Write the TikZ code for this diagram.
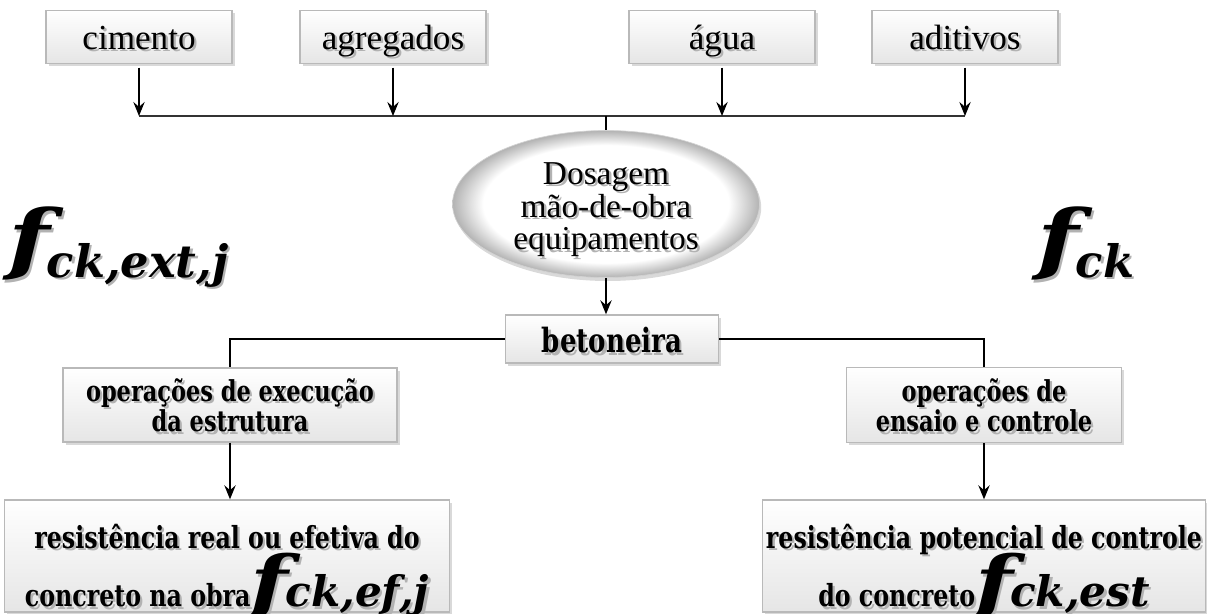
\documentclass[tikz,border=0pt]{standalone}
\usepackage{fontspec}
\setmainfont{Liberation Serif}
\newfontfamily\schola{DejaVu Serif}
\usepackage{tikz}
\usetikzlibrary{arrows.meta,shadows,shapes.geometric}
\newcommand{\shd}[1]{\leavevmode\rlap{\kern1.3pt\raisebox{-1.3pt}[0pt][0pt]{\textcolor{black!30}{#1}}}#1}
\newcommand{\cond}[1]{\scalebox{0.78}[1]{#1}}
\newcommand{\linhas}[1]{\begin{tabular}[b]{@{}c@{}}#1\end{tabular}}
% f grande: tamanho do f, tamanho do indice, descida do indice, indice
\newcommand{\fbig}[4]{{\schola\bfseries\itshape\fontsize{#1}{#1}\selectfont\scalebox{1.25}[1]{f}\kern-0.04em\fontsize{#2}{#2}\selectfont\raisebox{-#3}{#4}}}
\pgfdeclareradialshading{aro}{\pgfpoint{0bp}{0bp}}{color(0bp)=(white); color(20bp)=(white); color(25bp)=(black!30); color(50bp)=(black!30)}

\begin{document}
\begin{tikzpicture}[x=0.02cm, y=-0.02cm,
  caixa/.style={rectangle, draw=gray!55, line width=0.8pt, top color=white, bottom color=gray!20,
    drop shadow={opacity=0.3, shadow xshift=1.5pt, shadow yshift=-1.5pt}, inner sep=0pt},
  linhabase/.style={text depth=0pt, text height=#1},
  topo/.style={caixa, minimum width=3.72cm, minimum height=1.06cm, linhabase=0.5cm, font=\fontsize{20}{22}\selectfont},
  negrito/.style={font=\schola\bfseries\fontsize{#1}{17}\selectfont},
  seta/.style={-{Stealth[length=8pt, width=6.5pt, inset=2.8pt]}, line width=0.7pt}]
  \useasboundingbox (0,0) rectangle (1207,614);
  \node[topo] (cim) at (139,37) {\shd{cimento}};
  \node[topo] (agr) at (393,37) {\shd{agregados}};
  \node[topo] (agua) at (722,37) {\shd{água}};
  \node[topo] (adit) at (965,37) {\shd{aditivos}};
  \coordinate (bus) at (606,116);
  \draw[line width=1pt, black!80] (cim.south |- bus) -- (adit.south |- bus);
  \foreach \n in {cim,agr,agua,adit} \draw[seta] ([yshift=-2pt]\n.south) -- (\n.south |- bus);
  \node[ellipse, draw=gray!35, shading=aro, minimum width=6.14cm, minimum height=2.94cm, inner sep=0pt,
    drop shadow={opacity=0.3, shadow xshift=1pt, shadow yshift=-2pt}, linhabase=1.84cm,
    font=\fontsize{19}{18.5}\selectfont] (dos) at (606,204)
    {\linhas{\shd{Dosagem}\\\shd{mão-de-obra}\\\shd{equipamentos}}};
  \draw[line width=0.7pt] (bus) -- (dos.north);
  \node[caixa, minimum width=4.26cm, minimum height=0.96cm, linhabase=0.56cm,
    font=\schola\bfseries\fontsize{19}{22}\selectfont] (beto) at (612,339) {\shd{\cond{betoneira}}};
  \draw[seta] (dos.south) -- (dos.south |- beto.north);
  \node[caixa, negrito=16.4, minimum width=6.68cm, minimum height=1.48cm, linhabase=1.08cm] (opE) at (230,405)
    {\linhas{\shd{\cond{operações de execução}}\\\shd{\cond{da estrutura}}}};
  \node[caixa, negrito=16.4, minimum width=5.5cm, minimum height=1.5cm, linhabase=1.08cm] (opC) at (984,405)
    {\linhas{\shd{\cond{operações de}}\\\shd{\cond{ensaio e controle}}}};
  \draw[line width=0.7pt] (beto.west) -| (opE.north);
  \draw[line width=0.7pt] (beto.east) -| (opC.north);
  \node[caixa, negrito=17.3, minimum width=8.9cm, minimum height=2.24cm, linhabase=2.04cm] (resE) at (227,556)
    {\linhas{\shd{\cond{resistência real ou efetiva do}}\\[15pt]
      \shd{\cond{concreto na obra}}\smash{\shd{\fbig{40}{24}{0pt}{ck,ef,j}}}}};
  \node[caixa, negrito=17.3, minimum width=8.86cm, minimum height=2.24cm, linhabase=2.04cm] (resC) at (984,556)
    {\linhas{\shd{\cond{resistência potencial de controle}}\\[15pt]
      \shd{\cond{do concreto}}\smash{\shd{\fbig{40}{24}{0pt}{ck,est}}}}};
  \draw[seta] (opE.south) -- (opE.south |- resE.north);
  \draw[seta] (opC.south) -- (opC.south |- resC.north);
  \node[anchor=base west, inner sep=0pt] (fext) at (8,266) {\shd{\fbig{44}{25.5}{0.25em}{ck,ext,j}}};
  \node[anchor=base west, inner sep=0pt] (fck) at (1037,266) {\shd{\fbig{44}{25.5}{0.25em}{ck}}};
\end{tikzpicture}
\end{document}
